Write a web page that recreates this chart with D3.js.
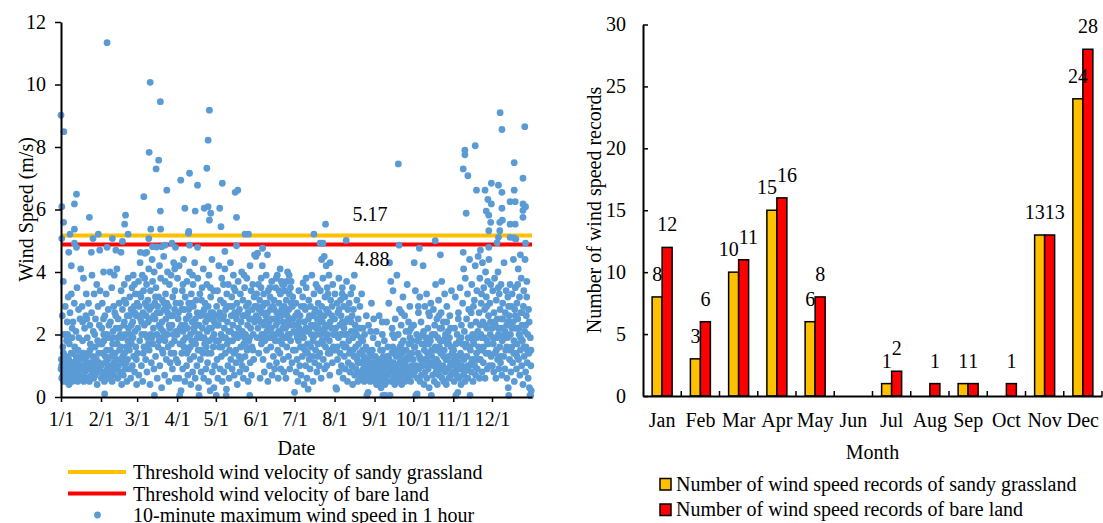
<!DOCTYPE html>
<html>
<head>
<meta charset="utf-8">
<script src="https://cdn.jsdelivr.net/npm/d3@7"></script>
<style>
  body { margin: 0; background: #fff; }
</style>
</head>
<body>
<div id="chart"></div>
<script>
// wind speed points per month, "day-of-month speed" pairs
let windJan = "1 0.9,1.3 1.2,1.6 0.6,2 2.6,2.2 1.0,2.5 0.7,2.8 3.7,3 1.4,3.2 0.5,3.5 2.0,3.8 0.9,4 1.1,4.3 2.9,4.5 0.6,4.8 1.3,5 0.8,5.3 1.8,5.5 0.5,5.8 2.4,6 1.0,6.3 0.7,6.6 3.2,7 1.2,7.2 0.4,7.5 1.7,7.8 0.9,8 2.7,8.3 0.6,8.6 1.1,9 3.3,9.2 0.8,9.5 1.9,9.8 0.5,10 1.4,10.3 2.4,10.6 0.7,11 1.0,11.3 3.0,11.6 1.6,12 0.9,12.3 0.6,12.6 2.1,13 1.2,13.4 3.5,13.7 0.8,14 0.5,14.3 1.5,14.6 2.8,15 1.0,15.3 0.7,15.7 2.5,16 1.3,16.3 4.1,16.6 0.6,17 1.0,17.3 2.9,17.7 1.8,18 0.9,18.4 3.8,18.7 0.5,19 1.2,19.3 2.2,19.7 0.8,20 1.0,20.3 2.6,20.6 3.3,21 0.6,21.4 1.9,21.7 1.1,22 1.4,22.3 3.0,22.7 0.9,23 0.5,23.4 2.3,23.7 1.7,24 1.1,24.4 0.7,24.7 2.7,25 3.9,25.4 1.0,25.7 1.3,26 2.1,26.4 0.6,26.7 3.3,27 0.9,27.4 1.6,27.7 2.5,28 0.8,28.4 1.2,28.7 3.6,29 0.4,29.4 1.8,29.7 2.9,30 0.8,30.4 1.1,30.7 2.3,31 1.0,31.3 3.4,1 9.02,3.2 8.49,1.6 6.09,3 5.59,1.6 5.07,11.4 6.18,13 6.49,11.4 5.37,8 5.21,11.4 4.92,13 4.79,7 4.63,23 5.75,24.5 4.63,25.8 5.07,29.9 5.21,31 4.70,9 4.2,1.5 1.0,2.7 0.8,3.9 1.3,5.2 1.1,6.5 0.9,7.7 0.7,8.9 1.4,10.1 1.1,11.4 0.8,12.8 1.3,14.1 1.0,15.5 1.2,16.8 0.9,18.2 1.4,19.5 0.6,20.8 1.3,22.1 1.0,23.5 1.5,24.8 0.9,26.2 1.1,27.5 0.7,28.8 1.0,30.2 1.4,2.4 1.6,9.7 2.2,14.8 1.9,21.1 2.5,27.1 2.0,30.9 1.7,6.1 2.0,17.8 2.4";
let windFeb = "1 1.0,1.3 0.6,1.6 2.2,2 3.0,2.3 1.4,2.6 0.8,3 4.0,3.3 1.8,3.6 0.5,3.8 0.1,4 2.6,4.3 1.1,4.6 0.7,5 3.3,5.3 1.5,5.6 2.0,6 0.9,6.3 1.2,6.6 2.8,7 0.6,7.3 1.9,7.6 1.0,8 4.0,8.3 2.4,8.6 0.8,9 1.3,9.3 3.5,9.6 0.5,10 1.7,10.3 2.1,10.6 1.0,11 0.7,11.3 3.9,11.6 2.7,12 1.4,12.3 0.9,12.6 2.2,13 1.2,13.3 4.1,13.6 1.7,14 0.6,14.3 2.5,14.6 1.0,15 3.0,15.3 1.5,15.6 0.8,16 2.0,16.3 1.2,16.6 3.4,17 0.4,17.3 1.9,17.6 2.8,18 1.1,18.3 0.7,18.6 2.3,19 3.6,19.3 1.4,19.6 0.9,20 2.0,20.3 3.0,20.6 1.6,21 0.5,21.3 2.6,21.6 1.2,22 3.8,22.3 2.2,22.6 0.9,23 1.5,23.3 3.2,23.6 2.0,24 0.6,24.3 2.8,24.6 1.7,25 3.5,25.3 1.0,25.6 2.4,26 3.9,26.3 1.3,26.6 2.9,27 0.8,27.3 2.1,27.6 3.3,28 1.6,28.3 2.6,28.6 0.4,5.7 11.34,5.7 4.79,9.8 5.07,12.5 4.70,16.5 4.63,17.6 4.98,19.3 5.53,20 5.82,22 5.21,1.8 1.7,3.1 2.0,4.4 1.3,5.9 0.9,7.1 2.3,8.4 1.5,9.8 1.9,11.1 1.1,12.4 2.6,13.8 1.9,15.1 2.2,16.4 1.6,17.8 1.3,19.1 2.4,20.4 1.1,21.8 1.8,23.1 2.6,24.5 2.3,25.8 1.9,27.1 2.7,28.4 1.2,2.9 2.5,10.8 2.9,18.9 3.1,26.9 3.6";
let windMar = "1 3.0,1.3 1.4,1.6 2.2,2 3.7,2.3 0.7,2.6 2.9,3 1.8,3.3 4.3,3.6 2.5,4 3.2,4.3 1.0,4.6 2.0,5 3.9,5.3 0.5,5.6 2.7,6 3.4,6.3 1.6,6.6 2.3,7 4.6,7.3 3.0,7.6 1.2,8 2.6,8.3 3.6,8.6 0.8,9 1.9,9.3 3.1,9.6 2.4,10 4.1,10.3 1.5,10.6 2.8,11 0.4,11.3 3.4,11.6 2.0,12 1.1,12.3 2.9,12.6 4.4,13 3.7,13.3 1.7,13.6 2.2,14 0.9,14.4 0.05,14.7 3.0,15 2.5,15.3 1.3,15.6 3.5,16 4.8,16.3 2.0,16.6 0.6,17 2.9,17.3 1.6,17.6 3.2,18 2.3,18.3 4.2,18.6 1.0,19 2.7,19.3 3.8,19.6 1.9,20 0.3,20.3 2.4,20.6 3.1,21 1.4,21.3 2.1,21.6 4.5,22 2.8,22.3 0.7,22.6 1.8,23 3.3,23.3 2.5,23.6 1.2,24 3.0,24.3 2.0,24.6 4.0,25 1.6,25.3 2.9,25.6 0.5,26 3.6,26.3 2.2,26.6 1.1,27 2.6,27.3 3.9,27.6 1.7,28 2.3,28.3 0.9,28.6 3.2,29 2.0,29.3 4.3,29.6 1.4,30 2.8,30.3 3.4,30.6 0.6,31 2.1,31.3 1.2,3.5 4.63,6.2 6.41,8.4 4.63,10.3 7.83,11.1 10.07,10 5.07,11.6 5.37,12.9 4.81,15.7 7.3,17.7 7.58,19 9.45,19 5.95,19.2 5.37,20 4.81,24 6.62,22.6 4.86,28 4.92,30.7 4.79,1.8 2.6,3.1 3.3,4.4 2.4,5.8 1.4,7.1 2.0,8.5 2.9,9.8 1.7,11.2 2.5,12.5 1.9,13.9 2.6,15.2 3.2,16.5 2.7,17.9 1.8,19.2 2.2,20.5 1.5,21.9 3.0,23.2 2.0,24.6 2.7,25.9 2.3,27.2 1.4,28.5 2.6,29.9 1.8,31 3.0,6.8 3.8,14.2 4.0,22.8 3.7,30.1 4.1";
let windApr = "1 2.0,1.3 3.8,1.6 1.1,2 2.7,2.3 0.6,2.6 4.2,2.9 0.05,3.2 1.7,3.6 3.0,4 0.2,4.3 2.3,4.6 1.4,5 3.4,5.3 0.9,5.6 2.1,6 4.4,6.3 1.6,6.6 2.8,7 0.5,7.3 3.2,7.6 1.9,8 2.5,8.3 1.0,8.6 3.7,9 2.2,9.3 0.7,9.6 1.5,10 3.0,10.3 2.6,10.6 4.0,11 1.2,11.3 2.0,11.6 0.4,12 3.3,12.3 1.8,12.6 2.4,13 0.8,13.3 3.6,13.6 2.9,14 1.3,14.3 2.1,14.6 4.3,15 0.6,15.3 1.7,15.6 3.1,16 2.3,16.3 1.0,16.6 2.7,17 3.8,17.3 1.5,17.6 0.3,18 0.05,18.3 2.0,18.6 3.3,19 1.2,19.3 2.6,19.6 0.8,20 1.9,20.3 3.5,20.6 2.2,21 1.4,21.3 4.1,21.6 0.6,22 2.8,22.3 1.7,22.6 3.0,23 2.4,23.3 0.9,23.6 1.6,24 3.6,24.3 2.1,24.6 1.1,25 2.9,25.3 0.5,25.6 3.9,26 1.8,26.3 2.5,26.6 0.2,27 3.2,27.3 1.4,27.6 2.2,28 4.4,28.3 0.8,28.6 2.7,29 1.6,29.3 3.4,29.6 2.0,30 1.0,30.3 2.6,29.5 0.3,3.8 6.94,7 6.04,9.8 5.24,10 5.3,10.6 7.16,10.6 4.86,15 5.95,16.8 6.78,16.8 4.79,22 6.04,24 7.32,25 8.22,25 6.09,26 9.18,26 5.66,27 5.88,1.8 2.5,3.1 2.2,4.5 2.8,5.8 1.8,7.2 2.3,8.5 1.4,9.9 2.8,11.2 1.6,12.6 3.0,13.9 2.2,15.2 2.5,16.6 1.9,17.9 2.3,19.2 1.5,20.6 2.7,21.9 1.9,23.2 2.6,24.6 1.4,25.9 2.2,27.2 2.7,28.5 1.9,29.8 2.4,5.5 3.6,12.9 3.9,19.9 3.1,26.8 3.5";
let windMay = "1 1.8,1.3 0.05,1.6 2.9,2 1.2,2.3 3.4,2.6 0.6,3 2.3,3.3 4.2,3.6 1.6,4 2.7,4.3 0.9,4.6 3.1,5 2.0,5.3 1.3,5.6 3.8,6 0.5,6.3 2.5,6.6 1.9,7 3.0,7.3 0.8,7.6 2.2,8 4.1,8.3 1.4,8.6 2.8,9 0.05,9.2 0.25,9.5 3.3,9.8 1.7,10 2.4,10.3 1.0,10.6 3.6,11 2.1,11.3 0.6,11.6 1.5,12 2.9,12.3 4.3,12.6 1.2,13 2.6,13.3 3.2,13.6 0.9,14 1.8,14.3 2.3,14.6 3.9,15 1.4,15.3 0.7,15.6 2.7,16 3.4,16.3 2.0,16.6 1.1,17 2.5,17.3 3.0,17.6 0.4,18 1.9,18.3 3.7,18.6 2.2,19 1.3,19.3 2.8,19.6 0.8,20 3.3,20.3 1.6,20.6 2.4,21 4.0,21.3 1.0,21.6 2.1,22 3.1,22.3 0.6,22.6 1.7,23 2.6,23.3 3.5,23.6 1.3,24 2.0,24.3 0.9,24.6 2.9,25 3.8,25.3 1.5,25.6 2.3,26 0.5,26.3 3.0,26.6 1.8,27 2.5,27.3 0.05,27.6 1.1,28 2.2,28.3 3.4,28.6 0.7,29 1.6,29.3 2.8,29.6 3.6,30 2.0,30.3 1.2,30.6 3.2,31 2.4,27.5 4.2,4 6.04,5 5.45,6 6.84,8 4.66,16 6.55,18 6.62,17 5.75,17 4.84,23.6 5.21,26.3 5.21,31 4.55,1.8 2.3,3.1 1.8,4.5 2.5,5.8 1.6,7.1 2.6,8.5 1.9,9.9 2.9,11.2 1.8,12.5 2.1,13.8 2.9,15.2 2.0,16.5 1.5,17.8 2.7,19.2 2.0,20.5 1.2,21.8 2.6,23.2 1.9,24.5 1.6,25.8 2.7,27.2 1.9,28.5 2.5,29.8 1.5,31.2 2.9,6.9 3.6,14.9 3.5,22.9 3.9";
let windJun = "1 4.5,1.3 2.6,1.6 3.3,2 1.9,2.3 4.6,2.6 2.2,3 3.6,3.3 1.4,3.6 2.8,4 3.1,4.3 0.6,4.6 2.4,5 3.5,5.3 1.7,5.6 2.0,6 4.2,6.3 2.9,6.6 1.2,7 3.3,7.3 2.3,7.6 0.8,8 1.8,8.3 3.0,8.6 2.6,9 3.9,9.3 1.5,9.6 2.1,10 2.7,10.3 0.5,10.6 3.4,11 1.9,11.3 2.4,11.6 1.0,12 3.2,12.3 2.8,12.6 1.6,13 2.2,13.3 3.7,13.6 0.7,14 2.0,14.3 2.9,14.6 1.3,15 3.1,15.3 2.5,15.6 0.9,16 1.8,16.3 3.5,16.6 2.3,17 1.1,17.3 2.7,17.6 3.9,18 1.5,18.3 0.6,18.6 2.1,19 3.0,19.3 2.6,19.6 1.4,20 3.3,20.3 0.9,20.6 2.0,21 2.8,21.3 1.7,21.6 3.6,22 2.4,22.3 1.2,22.6 0.8,23 2.9,23.3 3.4,23.6 1.9,24 2.2,24.3 0.6,24.6 3.1,25 1.6,25.3 2.6,25.6 4.0,26 2.0,26.3 1.3,26.6 2.8,27 3.3,27.3 0.9,27.6 2.3,28 1.8,28.3 3.7,28.6 2.5,29 1.1,29.3 2.9,29.6 3.2,30 1.5,30.3 2.1,16.8 3.8,19.8 4.1,22.8 3.6,26.8 3.9,27.8 3.5,20.8 3.7,6.2 4.76,10 4.55,1.8 2.9,3.1 2.5,4.5 1.9,5.8 2.7,7.1 2.0,8.5 2.4,9.8 3.0,11.1 2.2,12.5 2.5,13.8 1.9,15.2 2.8,16.5 2.0,17.8 2.4,19.2 1.8,20.5 2.6,21.8 2.2,23.2 2.7,24.5 1.9,25.8 2.4,27.1 2.0,28.5 3.0,29.8 2.5,5.1 3.8,11.9 3.5,18.9 3.4,24.9 3.7";
let windJul = "1 0.15,1.3 2.3,1.6 1.5,2 3.0,2.3 0.8,2.6 2.0,3 1.2,3.3 2.7,3.6 0.5,4 1.8,4.3 3.4,4.6 2.2,5 1.0,5.3 2.6,5.6 1.6,6 0.7,6.3 2.9,6.6 2.0,7 1.3,7.3 3.2,7.6 3.65,8 1.9,8.3 0.4,8.6 2.4,9 1.5,9.3 2.8,9.6 1.0,10 3.5,10.3 2.1,10.6 0.6,11 1.7,11.5 0.25,11.8 2.5,12 3.1,12.3 1.2,12.6 2.2,13 0.9,13.3 2.9,13.6 1.6,14 2.0,14.4 3.9,14.7 1.3,15 2.6,15.3 0.5,15.6 1.9,16 3.3,16.3 2.3,16.6 1.1,17 2.8,17.3 1.5,17.6 3.6,18 2.0,18.3 0.8,18.6 2.5,19 1.7,19.3 3.0,19.6 2.2,20 1.0,20.3 2.7,20.6 1.4,21 3.4,21.3 2.0,21.6 0.6,22 2.9,22.3 1.8,22.6 2.4,23 3.8,23.3 1.2,23.6 2.1,24 2.6,24.3 0.9,24.6 3.2,25 1.6,25.3 2.3,25.6 2.8,26 1.0,26.3 3.5,26.6 2.0,27 1.4,27.3 2.7,27.6 3.9,28 1.8,28.3 0.7,28.6 2.4,29 3.1,29.3 1.5,29.6 2.2,30 2.9,30.3 1.1,30.6 3.6,31 2.0,22 4.4,25.5 4.2,28.5 4.3,16 5.21,20.8 4.92,23 4.92,25 5.53,24 4.5,1.8 2.6,3.1 1.9,4.5 2.4,5.8 2.1,7.1 1.6,8.5 2.9,9.8 2.2,11.1 1.4,12.5 2.6,13.8 2.3,15.2 1.8,16.5 2.7,17.8 2.2,19.1 1.3,20.5 2.4,21.8 2.6,23.1 1.7,24.5 2.2,25.8 1.9,27.1 2.3,28.5 1.4,29.8 2.6,31.1 1.6,9.9 3.8,18.9 3.5,26.9 3.3";
let windAug = "1 2.5,1.3 3.3,1.6 1.5,2 0.3,2.3 2.0,2.6 0.25,3 3.0,3.3 1.2,3.6 2.7,4 1.9,4.3 3.8,4.6 0.8,5 2.3,5.3 1.4,5.6 3.1,6 2.6,6.3 1.0,6.6 2.0,7 3.5,7.3 1.7,7.6 0.6,8 2.9,8.3 2.2,8.6 1.3,9 3.2,9.3 0.9,9.6 2.4,10 1.6,10.3 3.7,10.6 2.0,11 0.5,11.3 2.8,11.6 1.1,12 1.8,12.3 3.0,12.6 2.5,13 0.8,13.3 1.5,13.6 3.3,14 2.1,14.3 1.0,14.6 2.6,15 0.4,15.3 1.9,15.6 2.8,16 1.3,16.3 3.9,16.6 0.7,17 2.3,17.3 1.6,17.6 0.9,18 2.0,18.3 3.1,18.6 1.2,19 0.5,19.3 2.5,19.6 1.7,20 0.8,20.3 1.4,20.6 2.9,21 0.6,21.3 1.9,21.6 1.1,22 3.3,22.3 0.7,22.6 1.5,23 2.2,23.3 0.9,23.6 1.3,24 0.5,24.3 2.0,24.6 1.0,25 0.7,25.3 1.6,25.6 2.6,26 0.05,26.3 1.2,26.6 0.8,27 0.15,27.3 2.3,27.6 0.6,28 1.0,28.3 1.4,28.6 0.5,29 2.1,29.3 0.9,29.6 3.0,30 0.7,30.3 1.5,30.6 1.1,31 0.8,31.3 2.5,10 5.01,1.8 2.2,3.1 1.6,4.5 2.8,5.8 2.0,7.1 2.4,8.5 1.6,9.8 2.0,11.1 2.5,12.5 1.4,13.8 2.4,15.1 1.5,16.5 2.1,17.8 1.3,19.1 1.1,20.5 2.2,21.8 1.4,23.1 0.6,24.4 1.2,25.8 0.9,27.1 1.0,28.4 0.8,29.8 1.3,31.1 0.6,22.9 1.8,26.9 1.5,30.9 1.9,6.9 3.3,14.9 3.5";
let windSep = "1 0.9,1.3 0.5,1.6 1.3,2 0.7,2.3 2.1,2.6 0.4,3 1.0,3.3 0.6,3.6 1.7,4 0.8,4.3 1.2,4.6 2.6,5 0.5,5.3 0.9,5.6 1.5,6 0.3,6.3 1.1,6.6 0.7,7 2.0,7.5 0.05,7.8 1.3,8 0.6,8.3 0.9,8.6 1.8,9 0.4,9.5 0.05,9.8 1.2,10 0.8,10.3 2.4,10.6 0.5,11 1.0,11.3 1.6,11.6 0.7,12 3.0,12.3 1.2,12.6 4.3,13 0.05,13.3 0.9,13.6 3.7,14 0.5,14.3 1.4,14.6 2.2,15 0.8,15.3 3.4,15.6 1.1,16 0.6,16.3 1.9,16.6 0.4,17 2.5,17.3 1.0,17.6 0.7,18 1.5,18.3 3.9,18.6 0.9,19 0.5,19.3 2.0,19.6 1.3,20 0.8,20.3 2.8,20.6 1.6,21 0.6,21.3 1.1,21.6 2.3,22 0.4,22.3 1.4,22.6 0.9,23 3.2,23.3 1.8,23.6 0.7,24 1.2,24.3 2.6,24.6 0.5,25 1.0,25.3 2.1,25.6 1.5,26 0.8,26.3 3.6,26.6 1.2,27 0.6,27.3 2.4,27.6 1.7,28 0.9,28.3 2.9,28.6 1.3,29 0.5,29.3 2.2,29.6 1.0,30 1.8,30.3 0.7,19.4 7.46,20 4.86,1.8 1.1,3.1 0.8,4.5 1.0,5.8 0.7,7.1 1.5,8.4 1.1,9.7 0.7,11.1 1.3,12.4 0.8,13.8 1.1,15.1 1.6,16.4 1.0,17.8 1.3,19.1 0.7,20.4 1.1,21.8 1.7,23.1 1.0,24.4 1.5,25.8 0.6,27.1 1.3,28.4 1.9,29.8 1.4,6.9 2.4,14.9 2.0,21.9 2.7,27.9 2.1";
let windOct = "1 1.2,1.3 2.3,1.7 4.3,2 0.8,2.3 1.6,2.6 3.4,3 0.05,3.3 1.0,3.6 2.0,4 0.1,4.3 0.6,4.6 1.4,5 2.7,5.3 0.9,5.6 1.9,6 3.2,6.3 0.5,6.6 1.2,7 2.4,7.3 0.7,7.6 1.7,8 1.0,8.6 4.2,9 2.1,9.3 0.4,9.6 1.5,10 2.9,10.3 0.8,10.6 1.9,11 1.2,11.3 3.3,11.6 0.6,12 1.4,12.3 2.2,12.6 0.9,13 1.7,13.3 0.3,13.6 2.6,14 1.1,14.3 1.8,14.6 3.0,15 0.05,15.3 1.3,15.6 2.0,16 0.7,16.3 1.5,16.6 2.8,17 1.0,17.3 0.5,17.6 2.3,18 1.6,18.3 3.6,18.6 0.8,19 1.2,19.3 2.5,19.6 0.4,20 1.9,20.3 1.1,20.6 3.1,21 0.7,21.3 1.6,21.6 2.2,22 0.9,22.3 1.4,22.6 2.7,23 3.7,23.3 0.6,23.6 1.8,24 1.0,24.3 2.4,24.6 0.5,25 1.5,25.3 3.3,25.6 0.8,26 2.0,26.3 1.2,26.6 0.4,27 2.9,27.3 1.7,27.6 0.9,28 2.1,28.3 1.3,28.6 0.6,29 1.9,29.3 2.6,29.6 1.0,30 0.7,30.3 1.6,30.6 3.4,31 1.1,5.7 4.76,18 5.0,22 4.55,1.8 1.6,3.1 0.9,4.5 1.8,5.8 1.3,7.1 1.0,8.4 2.0,9.8 1.2,11.1 1.7,12.4 1.0,13.8 1.9,15.1 1.5,16.5 1.1,17.8 2.0,19.1 1.5,20.5 0.9,21.8 1.8,23.1 2.2,24.5 1.3,25.8 1.9,27.1 1.2,28.4 1.7,29.8 2.2,31.1 1.4,4.9 2.9,12.9 2.7,20.9 2.6,26.9 2.4";
let windNov = "1 0.8,1.3 1.5,1.6 0.5,2 2.2,2.3 1.0,2.6 3.2,3 0.05,3.3 1.3,3.6 0.7,4 2.0,4.5 0.15,4.8 1.1,5 2.7,5.3 0.6,5.6 1.8,6 0.9,6.3 3.5,6.6 1.4,7 0.4,7.3 2.3,7.6 1.0,8 1.7,8.3 3.0,8.6 0.7,9 4.1,9.3 1.2,9.6 2.1,10 0.5,10.3 3.8,10.6 1.6,11 0.9,11.3 2.5,11.6 1.3,12 3.3,12.3 0.6,12.6 1.9,13 2.8,13.3 1.0,13.6 4.4,14 0.05,14.3 1.5,14.6 2.3,15 0.8,15.3 3.6,15.6 1.2,16 2.0,16.3 0.5,16.6 2.9,17 1.7,17.3 3.1,17.6 1.0,18 4.2,18.3 0.7,18.6 2.4,19 1.4,19.3 3.4,19.6 0.9,20 2.1,20.3 4.5,20.6 1.6,21 2.7,21.3 0.6,21.6 3.8,22 1.2,22.3 2.0,22.6 3.0,23 1.5,23.3 0.8,23.6 4.3,24 2.4,24.3 1.1,24.6 3.5,25 1.9,25.3 2.8,25.6 0.6,26 4.0,26.3 1.4,26.6 3.2,27 2.2,27.3 0.9,27.6 3.7,28 1.7,28.3 2.6,28.6 4.4,29 1.0,29.3 3.0,29.6 2.0,30 3.6,30.3 1.3,8.7 7.3,10 7.9,10 7.75,12.3 7.08,11 5.88,8.7 4.63,18 8.04,19 6.62,22 4.70,25.6 6.62,26.5 5.95,27.8 6.32,28.5 5.82,30.5 6.84,30 5.59,28.5 5.32,30.5 6.18,28.5 4.79,1.8 1.2,3.1 1.7,4.4 0.9,5.8 1.3,7.1 1.9,8.4 1.3,9.8 0.8,11.1 1.7,12.4 1.0,13.8 1.6,15.1 1.1,16.4 1.8,17.8 1.2,19.1 1.9,20.4 1.2,21.8 2.3,23.1 1.9,24.4 1.6,25.8 2.3,27.1 1.8,28.4 1.4,29.8 2.4,4.9 2.5,14.9 2.7,22.9 3.3,26.9 2.9";
let windDec = "1 2.2,1.3 1.0,1.6 3.4,2 1.7,2.3 0.8,2.6 2.7,3 3.8,3.3 1.4,3.6 2.3,4 0.6,4.3 3.1,4.6 1.9,5 2.5,5.3 1.2,5.6 4.0,6 2.0,6.3 0.9,6.6 3.3,7 1.6,7.3 2.8,7.6 1.1,8 3.6,8.3 2.2,8.6 0.7,9 1.8,9.3 3.0,9.6 2.5,10 1.3,10.3 4.3,10.6 2.0,11 0.9,11.3 2.7,11.6 1.5,12 3.4,12.3 2.3,12.6 0.6,13 1.9,13.3 3.2,13.6 0.3,14 0.05,14.3 2.6,14.6 1.2,15 3.6,15.3 2.0,15.6 0.8,16 2.9,16.3 1.6,16.6 3.3,17 1.1,17.3 2.4,17.6 4.4,18 1.8,18.3 0.5,18.6 2.8,19 3.5,19.3 1.4,19.6 2.2,20 0.9,20.3 3.0,20.6 1.7,21 2.5,21.3 4.1,21.6 1.2,22 2.0,22.3 3.2,22.6 0.7,23 1.5,23.3 2.7,23.6 3.8,24 1.0,24.3 2.3,24.6 1.8,25 0.4,25.3 2.9,25.6 3.4,26 1.3,26.3 2.1,26.6 4.4,27 0.8,27.3 1.6,27.6 2.6,28 3.7,28.3 1.1,28.6 2.0,29 0.6,29.3 2.8,29.6 1.4,30 0.3,30.4 0.05,30.7 1.9,31 0.05,31.2 1.5,31.4 0.2,6 6.78,7.3 9.1,8.7 8.56,8.7 6.55,8.7 6.04,7 5.59,7 5.32,6 5.11,5 4.94,9 5.66,15 6.25,15 5.53,15 5.11,18.2 7.5,18.2 6.62,19 6.25,19 5.53,18 5.09,19.5 5.05,25 7.0,26.4 8.65,25 6.18,25 5.97,27 6.09,25 5.75,27 4.92,23 4.55,1.8 1.9,3.1 2.4,4.4 1.5,5.8 2.2,7.1 1.3,8.4 2.5,9.8 1.9,11.1 2.1,12.4 1.6,13.8 2.4,15.1 1.5,16.4 2.2,17.8 1.4,19.1 2.6,20.4 1.3,21.8 2.2,23.1 1.9,24.4 2.7,25.8 1.6,27.1 2.3,28.4 1.5,29.8 2.4,31.1 1.0,5.9 3.5,13.9 2.9,20.9 3.6,27.9 3.2";

let thresholdSandy = 5.17;
let thresholdBare = 4.88;

let monthNames = ["Jan", "Feb", "Mar", "Apr", "May", "Jun", "Jul", "Aug", "Sep", "Oct", "Nov", "Dec"];
let sandyCounts = [8, 3, 10, 15, 6, 0, 1, 0, 1, 0, 13, 24];
let bareCounts = [12, 6, 11, 16, 8, 0, 2, 1, 1, 1, 13, 28];

let yearStart = new Date(2017, 0, 1);
let yearEnd = new Date(2018, 0, 1);
let serif = '"Liberation Serif", "Times New Roman", Times, serif';

let svg = d3.select("#chart")
            .append("svg")
            .attr("width", 1103)
            .attr("height", 523);

// ---------- left: scatter ----------
let windData = [];
[windJan, windFeb, windMar, windApr, windMay, windJun,
 windJul, windAug, windSep, windOct, windNov, windDec].forEach(function(s, m) {
    s.split(",").forEach(function(p) {
        let parts = p.trim().split(" ");
        let day = +parts[0];
        let t = new Date(2017, m, 1).getTime() + (day - 1) * 864e5;
        windData.push({date: new Date(t), speed: +parts[1]});
    });
});

let xTime = d3.scaleTime().domain([yearStart, yearEnd]).range([61, 532]);
let yWind = d3.scaleLinear().domain([0, 12]).range([397, 22]);

let left = svg.append("g");

// threshold lines
left.append("line")
    .attr("x1", xTime(yearStart)).attr("x2", xTime(yearEnd))
    .attr("y1", yWind(thresholdSandy)).attr("y2", yWind(thresholdSandy))
    .attr("stroke", "#ffc000").attr("stroke-width", 4);
left.append("line")
    .attr("x1", xTime(yearStart)).attr("x2", xTime(yearEnd))
    .attr("y1", yWind(thresholdBare)).attr("y2", yWind(thresholdBare))
    .attr("stroke", "#ff0000").attr("stroke-width", 4);

left.append("g").selectAll("circle")
    .data(windData)
    .enter()
        .append("circle")
        .attr("cx", d => xTime(d.date))
        .attr("cy", d => yWind(d.speed))
        .attr("r", 3.4)
        .attr("fill", "#5b9bd5");

left.append("text")
    .attr("x", 370).attr("y", yWind(thresholdSandy) - 14)
    .attr("text-anchor", "middle")
    .text(thresholdSandy.toFixed(2));
left.append("text")
    .attr("x", 372).attr("y", yWind(thresholdBare) + 21.5)
    .attr("text-anchor", "middle")
    .text(thresholdBare.toFixed(2));

let monthStarts = d3.range(12).map(m => new Date(2017, m, 1));
let xAxisL = left.append("g")
    .attr("transform", `translate(0,${yWind(0)})`)
    .call(d3.axisBottom(xTime).tickValues(monthStarts)
            .tickFormat(d => (d.getMonth() + 1) + "/1")
            .tickSize(5).tickSizeOuter(0).tickPadding(10));

let yAxisL = left.append("g")
    .attr("transform", `translate(${xTime(yearStart)},0)`)
    .call(d3.axisLeft(yWind).tickValues(d3.range(0, 13, 2))
            .tickSize(6).tickSizeOuter(0).tickPadding(9));

left.append("text")
    .attr("x", 296.5).attr("y", 455)
    .attr("text-anchor", "middle")
    .text("Date");

left.append("text")
    .attr("transform", "translate(33,209.5) rotate(-90)")
    .attr("text-anchor", "middle")
    .text("Wind Speed (m/s)");

// left legend
let legL = left.append("g");
legL.append("line").attr("x1", 68).attr("x2", 126).attr("y1", 472).attr("y2", 472)
    .attr("stroke", "#ffc000").attr("stroke-width", 4);
legL.append("text").attr("x", 133).attr("y", 479).text("Threshold wind velocity of sandy grassland");
legL.append("line").attr("x1", 68).attr("x2", 126).attr("y1", 493.5).attr("y2", 493.5)
    .attr("stroke", "#ff0000").attr("stroke-width", 4);
legL.append("text").attr("x", 133).attr("y", 500.5).text("Threshold wind velocity of bare land");
legL.append("circle").attr("cx", 97.5).attr("cy", 515).attr("r", 3.4).attr("fill", "#5b9bd5");
legL.append("text").attr("x", 133).attr("y", 521.5).text("10-minute maximum wind speed in 1 hour");

// ---------- right: bars ----------
let xMonth = d3.scaleBand().domain(monthNames).range([643, 1102]).paddingInner(0).paddingOuter(0);
let yCount = d3.scaleLinear().domain([0, 30]).range([396, 24.5]);
let barW = 10;

let right = svg.append("g");

let barData = monthNames.map((m, i) => ({month: m, sandy: sandyCounts[i], bare: bareCounts[i]}));
let center = d => xMonth(d.month) + xMonth.bandwidth() / 2;

right.append("g").selectAll("rect.sandy")
    .data(barData.filter(d => d.sandy > 0))
    .enter()
        .append("rect")
        .attr("x", d => center(d) - barW)
        .attr("y", d => yCount(d.sandy))
        .attr("width", barW)
        .attr("height", d => yCount(0) - yCount(d.sandy))
        .attr("fill", "#ffc000").attr("stroke", "#000").attr("stroke-width", 1.5);

right.append("g").selectAll("rect.bare")
    .data(barData.filter(d => d.bare > 0))
    .enter()
        .append("rect")
        .attr("x", d => center(d))
        .attr("y", d => yCount(d.bare))
        .attr("width", barW)
        .attr("height", d => yCount(0) - yCount(d.bare))
        .attr("fill", "#ff0000").attr("stroke", "#000").attr("stroke-width", 1.5);

let xAxisR = right.append("g")
    .attr("transform", `translate(0,${yCount(0)})`)
    .call(d3.axisBottom(xMonth).tickSize(0).tickSizeOuter(0).tickPadding(16.5));
// category boundary ticks, pointing up
xAxisR.selectAll("line.bound")
    .data(d3.range(1, 13))
    .enter()
        .append("line")
        .attr("x1", i => xMonth.range()[0] + i * xMonth.step())
        .attr("x2", i => xMonth.range()[0] + i * xMonth.step())
        .attr("y1", 0).attr("y2", -5)
        .attr("stroke", "#000").attr("stroke-width", 1.5);

let yAxisR = right.append("g")
    .attr("transform", `translate(${xMonth.range()[0]},0)`)
    .call(d3.axisLeft(yCount).tickValues(d3.range(0, 31, 5))
            .tickSizeInner(-5).tickSizeOuter(0).tickPadding(17));

right.append("text")
    .attr("x", 872.5).attr("y", 459)
    .attr("text-anchor", "middle")
    .text("Month");

right.append("text")
    .attr("transform", "translate(601,210) rotate(-90)")
    .attr("text-anchor", "middle")
    .text("Number of wind speed records");

// right legend
let legR = right.append("g");
legR.append("rect").attr("x", 660).attr("y", 478.5).attr("width", 11).attr("height", 11.5)
    .attr("fill", "#ffc000").attr("stroke", "#000").attr("stroke-width", 1.5);
legR.append("text").attr("x", 676).attr("y", 490.5).text("Number of wind speed records of sandy grassland");
legR.append("rect").attr("x", 660).attr("y", 504).attr("width", 11).attr("height", 11.5)
    .attr("fill", "#ff0000").attr("stroke", "#000").attr("stroke-width", 1.5);
legR.append("text").attr("x", 676).attr("y", 515.5).text("Number of wind speed records of bare land");

// axis styling
[xAxisL, yAxisL, xAxisR, yAxisR].forEach(function(a) {
    a.select(".domain").attr("stroke", "#000").attr("stroke-width", 2);
    a.selectAll(".tick line").attr("stroke", "#000").attr("stroke-width", 1.5);
});

// one serif face for every text, set inline so it wins over the axis defaults
svg.selectAll("text")
   .style("font-family", serif)
   .style("font-size", "20px")
   .style("fill", "#000");

// value labels, nudged apart when a pair would collide
let labelG = right.append("g");
barData.forEach(function(d) {
    let ls = null, lb = null;
    if (d.sandy > 0) {
        ls = labelG.append("text").attr("text-anchor", "middle")
            .attr("x", center(d) - barW / 2).attr("y", yCount(d.sandy) - 16).text(d.sandy);
    }
    if (d.bare > 0) {
        lb = labelG.append("text").attr("text-anchor", "middle")
            .attr("x", center(d) + barW / 2).attr("y", yCount(d.bare) - 16).text(d.bare);
    }
    labelG.selectAll("text").style("font-family", serif).style("font-size", "20px");
    if (ls && lb && Math.abs(yCount(d.sandy) - yCount(d.bare)) < 18) {
        let ws = ls.node().getComputedTextLength();
        let wb = lb.node().getComputedTextLength();
        let ov = (ws / 2 + wb / 2) - barW;
        if (ov > 0) {
            ls.attr("x", center(d) - barW / 2 - ov / 2);
            lb.attr("x", center(d) + barW / 2 + ov / 2);
        }
    }
});
</script>
</body>
</html>
